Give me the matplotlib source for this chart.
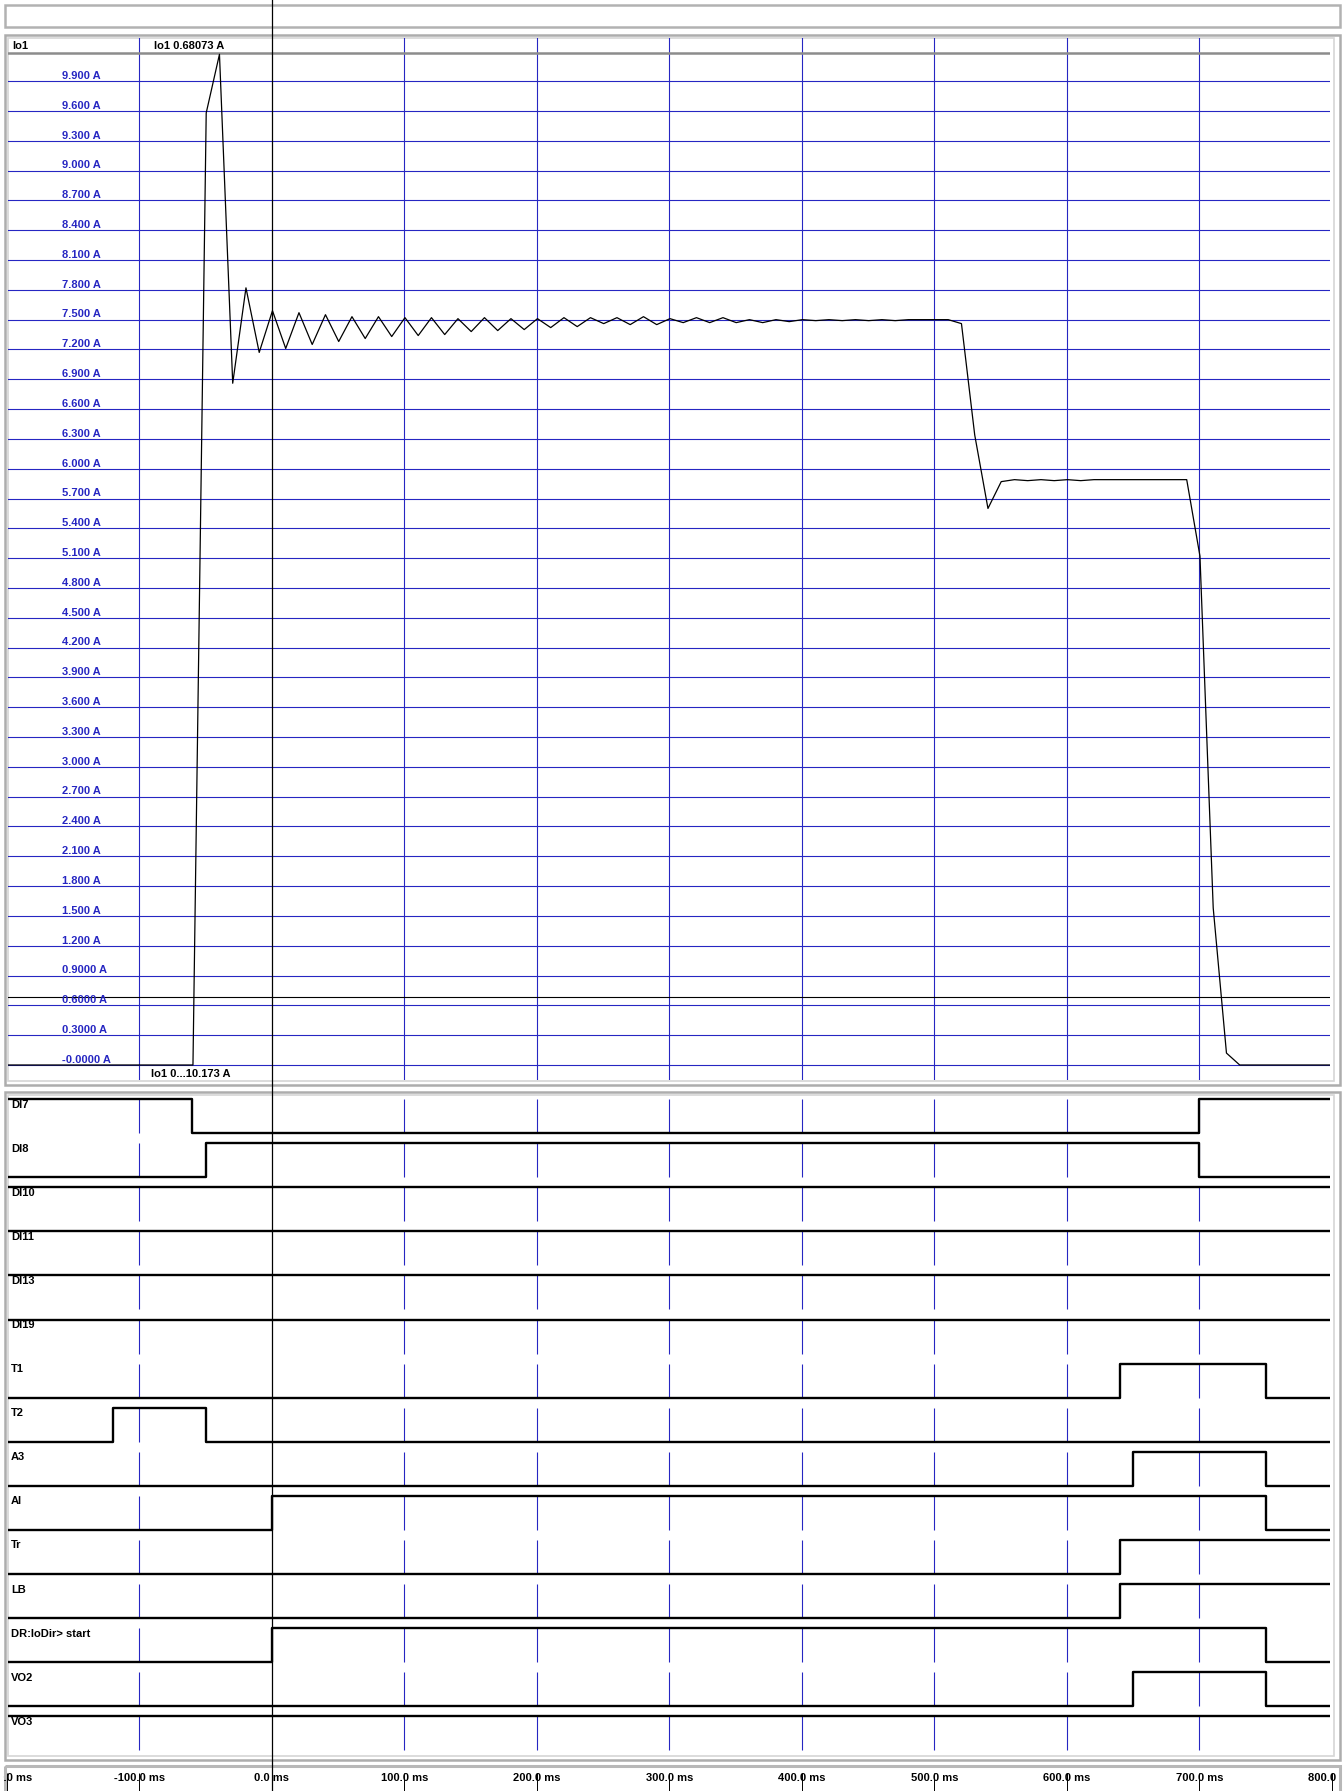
import numpy as np
import matplotlib
matplotlib.use('Agg')
import matplotlib.pyplot as plt
from matplotlib.patches import Rectangle
from matplotlib.transforms import blended_transform_factory

plt.rcParams['font.family'] = ['Liberation Sans', 'DejaVu Sans']

# --- data -------------------------------------------------------------------
# analog channel Io1 [A], recorder samples every 10 ms starting at -59.5 ms
io1_start = -59.5
io1_step = 10.0
io1_vals = [
    0.00, 9.58, 10.17, 6.86, 7.82, 7.17, 7.59, 7.21, 7.57, 7.25,
    7.55, 7.28, 7.53, 7.31, 7.53, 7.33, 7.52, 7.34, 7.52, 7.35,
    7.51, 7.38, 7.52, 7.39, 7.51, 7.40, 7.51, 7.42, 7.52, 7.43,
    7.52, 7.46, 7.52, 7.45, 7.53, 7.45, 7.51, 7.47, 7.52, 7.47,
    7.52, 7.47, 7.50, 7.47, 7.50, 7.48, 7.50, 7.49, 7.50, 7.49,
    7.50, 7.49, 7.50, 7.49, 7.50, 7.50, 7.50, 7.50, 7.46, 6.34,
    5.60, 5.87, 5.89, 5.88, 5.89, 5.88, 5.89, 5.88, 5.89, 5.89,
    5.89, 5.89, 5.89, 5.89, 5.89, 5.89, 5.12, 1.58, 0.12, 0.00,
    0.00, 0.00, 0.00, 0.00, 0.00, 0.00,
]
io1_level_before = 0.0
io1_level_after = 0.0
io1_cursor = 0.68073
io1_max = 10.173

# digital channels: initial state and switching times [ms]
dig_names = ['DI7', 'DI8', 'DI10', 'DI11', 'DI13', 'DI19', 'T1', 'T2', 'A3',
             'AI', 'Tr', 'LB', 'DR:IoDir> start', 'VO2', 'VO3']
dig_start = [1, 0, 1, 1, 1, 1, 0, 0, 0, 0, 0, 0, 0, 0, 1]
dig_edges = [[-60, 700], [-50, 700], [], [], [], [], [640, 750], [-120, -50],
             [650, 750], [0, 750], [640], [640], [0, 750], [650, 750], []]

time_ticks = [-200, -100, 0, 100, 200, 300, 400, 500, 600, 700, 800]
grid_times = [-100, 100, 200, 300, 400, 500, 600, 700]
amp_grid = np.arange(0, 9.95, 0.3)

# --- layout (pixels) --------------------------------------------------------
W, H = 1343, 1791
T0_PX = 271.8      # pixel column of t = 0 ms
PX_MS = 1.325      # pixels per ms
Y0_PX = 1065       # pixel row of 0 A
YTOP_PX = 54       # pixel row of io1_max
PX_A = (Y0_PX - YTOP_PX) / io1_max
ROW0_PX = 1099     # high level of first digital row
ROW_PX = 44.1
LOW = 34 / ROW_PX
BLUE = '#2626c2'

fig = plt.figure(figsize=(W / 100, H / 100), dpi=100)


def px_axes(x0, y0, x1, y1, **kw):
    return fig.add_axes([x0 / W, 1 - y1 / H, (x1 - x0) / W, (y1 - y0) / H], **kw)


def xlim_px(x0, x1):
    return ((x0 - T0_PX) / PX_MS, (x1 - T0_PX) / PX_MS)


# frames
bg = px_axes(0, 0, W, H)
bg.set_xlim(0, W)
bg.set_ylim(H, 0)
bg.axis('off')
bg.add_patch(Rectangle((4.5, 4.5), 1335, 22, fill=False, ec='#b2b2b2', lw=1.8))
bg.add_patch(Rectangle((4.5, 34.5), 1335, 1050, fill=False, ec='#adadad', lw=1.8))
bg.add_patch(Rectangle((8, 38), 1326, 1043, fill=False, ec='#d6d6d6', lw=1.2))
bg.add_patch(Rectangle((4.5, 1091.5), 1335, 668, fill=False, ec='#adadad', lw=1.8))
bg.add_patch(Rectangle((8, 1095), 1326, 661, fill=False, ec='#d6d6d6', lw=1.2))
bg.add_patch(Rectangle((4.5, 1765.5), 1335, 40, fill=False, ec='#b8b8b8', lw=2.2))

# analog panel
ax = px_axes(8, 38, 1330, 1080, facecolor='none')
ax.set_xlim(*xlim_px(8, 1330))
ax.set_ylim(-(1080 - Y0_PX) / PX_A, io1_max + (YTOP_PX - 38) / PX_A)
ax.axis('off')
for v in amp_grid:
    ax.axhline(v, color=BLUE, lw=0.8, zorder=1)
for t in grid_times:
    ax.axvline(t, color=BLUE, lw=0.8, zorder=1)
ax.axhline(io1_max + 1.5 / PX_A, color='#8c8c8c', lw=1.8, zorder=2)
ax.axhline(io1_cursor, color='black', lw=0.8, zorder=2)

io1_t = io1_start + io1_step * np.arange(len(io1_vals))
xl = ax.get_xlim()
tt = np.concatenate([[xl[0]], io1_t, [xl[1]]])
vv = np.concatenate([[io1_level_before], io1_vals, [io1_level_after]])
ax.plot(tt, vv, color='black', lw=0.9, zorder=3)

lab_tr = blended_transform_factory(ax.transAxes, ax.transData)
lx = (62 - 8) / 1322
for v in amp_grid:
    if v < 0.05:
        s = '-0.0000 A'
    elif v < 1:
        s = f'{v:.4f} A'
    else:
        s = f'{v:.3f} A'
    ax.text(lx, v + 2.2 / PX_A, s, transform=lab_tr, color=BLUE, fontsize=8,
            fontweight='bold', va='baseline', ha='left')
ax.text((12 - 8) / 1322, io1_max + 8 / PX_A, 'Io1', transform=lab_tr,
        fontsize=8, fontweight='bold', va='center', ha='left')
ax.text((154 - 8) / 1322, io1_max + 8 / PX_A, f'Io1 {io1_cursor:.5f} A',
        transform=lab_tr, fontsize=8, fontweight='bold', va='center', ha='left')
ax.text((151 - 8) / 1322, -9 / PX_A, f'Io1 0...{io1_max} A', transform=lab_tr,
        fontsize=8, fontweight='bold', va='center', ha='left')

# digital panel
dax = px_axes(8, 1095, 1330, 1755, facecolor='none')
dax.set_xlim(*xlim_px(8, 1330))
dax.set_ylim((1755 - ROW0_PX) / ROW_PX, (1095 - ROW0_PX) / ROW_PX)
dax.axis('off')
dxl = dax.get_xlim()
dig_tr = blended_transform_factory(dax.transAxes, dax.transData)
for i, name in enumerate(dig_names):
    s = dig_start[i]
    xs = [dxl[0]]
    ys = [i if s else i + LOW]
    for e in dig_edges[i]:
        s = 1 - s
        xs.append(e)
        ys.append(i if s else i + LOW)
    xs.append(dxl[1])
    ys.append(ys[-1])
    dax.step(xs, ys, where='post', color='black', lw=1.7, zorder=3)
    dax.vlines(grid_times, i, i + LOW, color=BLUE, lw=0.8, zorder=1)
    dax.text((11 - 8) / 1322, i + 5.5 / ROW_PX, name, transform=dig_tr,
             fontsize=8, fontweight='bold', va='center', ha='left', zorder=2)

# time axis
tax = px_axes(3, 1768, 1339, 1791, facecolor='none')
tax.set_xlim(*xlim_px(3, 1339))
tax.set_ylim(0, 1)
tax.axis('off')
tax.vlines(time_ticks, 0, 0.8, color='black', lw=0.7)
for t in time_ticks:
    tax.text(t, 0.55, f'{t:.1f} ms', ha='center', va='center', fontsize=8,
             fontweight='bold', clip_on=True)

# time cursor through all panels
cur = px_axes(8, 0, 1330, H, facecolor='none')
cur.set_xlim(*xlim_px(8, 1330))
cur.set_ylim(0, 1)
cur.axis('off')
cur.axvline(0, color='black', lw=0.9)

fig.savefig('out.png', dpi=100)
